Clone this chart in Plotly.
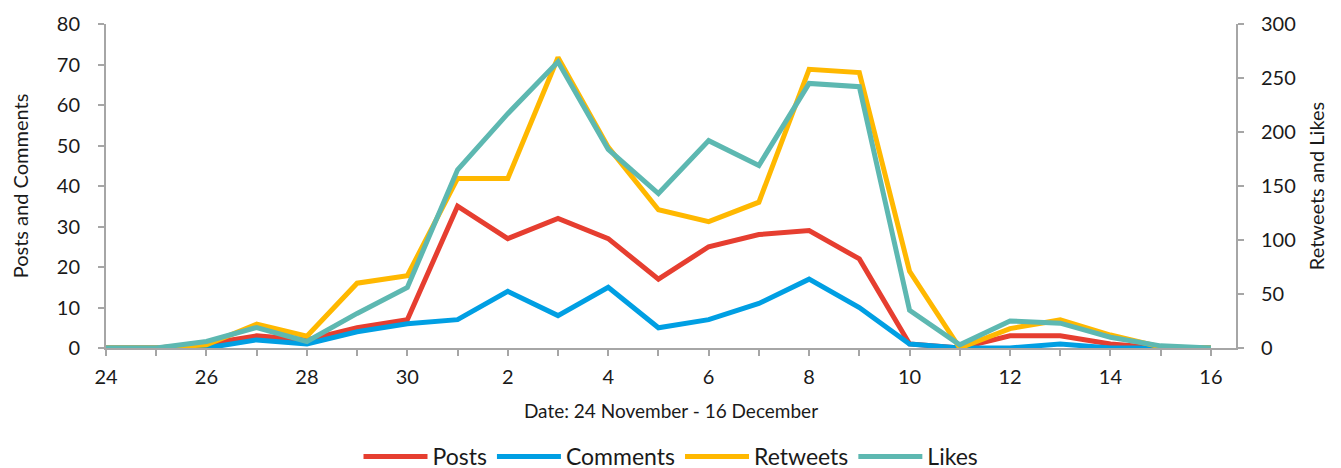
import plotly.graph_objects as go

days = ["24","25","26","27","28","29","30","1","2","3","4","5","6","7","8","9","10","11","12","13","14","15","16"]
posts = [0,0,1,3,2,5,7,35,27,32,27,17,25,28,29,22,1,0,3,3,1,0,0]
comments = [0,0,0,2,1,4,6,7,14,8,15,5,7,11,17,10,1,0,0,1,0,0,0]
retweets = [0,0,3,22,11,60,67,157,157,269,186,128,117,135,258,255,71,0,18,26,12,1,0]
likes = [0,0,6,19,6,32,56,165,217,265,184,143,192,169,245,242,35,3,25,23,10,2,0]

x = list(range(len(days)))
ticktext = [d if i % 2 == 0 else "" for i, d in enumerate(days)]

font = "Lato, Noto Sans, sans-serif"
axis_col = "#A6A6A6"
txt = "#1A1A1A"

fig = go.Figure()
fig.add_trace(go.Scatter(x=x, y=posts, name="Posts", mode="lines",
                         line=dict(color="#E63E30", width=5)))
fig.add_trace(go.Scatter(x=x, y=comments, name="Comments", mode="lines",
                         line=dict(color="#009FE3", width=5)))
fig.add_trace(go.Scatter(x=x, y=retweets, name="Retweets", mode="lines", yaxis="y2",
                         line=dict(color="#FFB800", width=5)))
fig.add_trace(go.Scatter(x=x, y=likes, name="Likes", mode="lines", yaxis="y2",
                         line=dict(color="#5DB8B1", width=5)))

fig.update_layout(
    width=1333, height=468,
    margin=dict(l=98, r=105, t=16, b=128, autoexpand=False),
    paper_bgcolor="white", plot_bgcolor="white",
    font=dict(family=font, size=20, color=txt),
    showlegend=True,
    legend=dict(orientation="h", x=0.5, xanchor="center", y=-0.335, yanchor="middle",
                font=dict(size=23, color=txt), itemwidth=64, tracegroupgap=0),
    xaxis=dict(range=[0, 22.5], tickmode="array", tickvals=x, ticktext=ticktext,
               showline=True, linecolor=axis_col, linewidth=2,
               ticks="outside", ticklen=6, tickcolor=axis_col, tickwidth=1.5, showgrid=False,
               zeroline=False, tickfont=dict(size=20, color=txt), ticklabelstandoff=4,
               title=dict(text="Date: 24 November - 16 December",
                          font=dict(size=19, color=txt), standoff=18)),
    yaxis=dict(range=[0, 80], dtick=10, showline=True, linecolor=axis_col, linewidth=2,
               ticks="outside", ticklen=6, tickcolor=axis_col, tickwidth=1.5, showgrid=False,
               zeroline=False, tickfont=dict(size=20, color=txt), ticklabelstandoff=14,
               title=dict(text="Posts and Comments", font=dict(size=20, color=txt), standoff=29)),
    yaxis2=dict(range=[0, 300], dtick=50, overlaying="y", side="right",
                showline=True, linecolor=axis_col, linewidth=2,
                ticks="outside", ticklen=6, tickcolor=axis_col, tickwidth=1.5, showgrid=False,
                zeroline=False, tickfont=dict(size=20, color=txt), ticklabelstandoff=13,
                title=dict(text="Retweets and Likes", font=dict(size=20, color=txt), standoff=15)),
)

fig.write_html("out.html")
